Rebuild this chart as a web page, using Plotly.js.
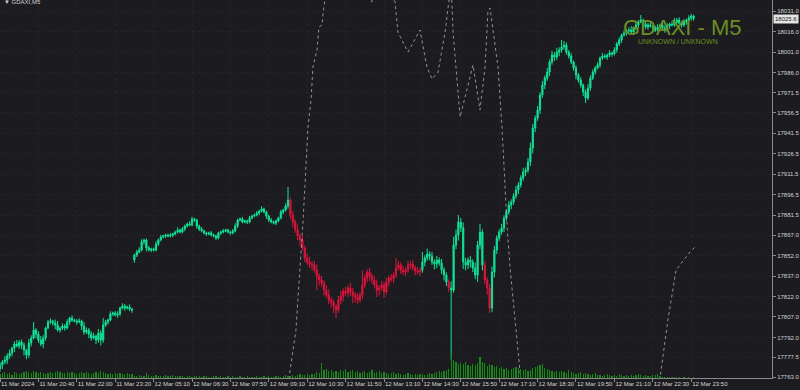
<!DOCTYPE html>
<html><head><meta charset="utf-8">
<script src="https://cdn.plot.ly/plotly-3.0.1.min.js"></script>
<style>html,body{margin:0;padding:0;background:#1c1c20;}#chart{width:800px;height:390px;}</style>
</head><body><div id="chart"></div>
<script>
// ---- data ----
const closes = [
17771.8,17774.0,17775.5,17778.4,17780.6,17784.2,17787.2,17785.7,17788.6,17786.4,
17782.8,17779.1,17787.9,17791.6,17797.4,17794.5,17790.1,17787.2,17791.6,17798.9,
17803.3,17804.0,17802.6,17801.1,17797.4,17798.9,17800.4,17798.9,17803.3,17806.2,
17804.8,17804.0,17803.3,17804.0,17800.4,17796.0,17797.4,17794.5,17791.6,17793.0,
17790.1,17795.2,17790.1,17801.1,17803.3,17804.8,17809.2,17809.9,17808.4,17809.2,
17813.5,17815.0,17813.5,17814.3,17812.8,17812.1,
17852.4,17854.6,17856.0,17861.9,17863.4,17857.5,17856.0,17856.8,17856.0,17860.4,
17863.4,17865.6,17866.3,17867.0,17866.3,17867.0,17867.8,17869.2,17870.7,17869.2,
17871.4,17873.6,17875.1,17874.4,17878.8,17878.0,17873.6,17871.4,17870.0,17868.5,
17867.8,17868.5,17867.0,17866.3,17864.8,17868.5,17869.2,17870.0,17870.7,17869.2,
17868.5,17870.0,17873.6,17878.0,17878.8,17876.6,17877.3,17876.6,17879.5,17880.9,
17881.7,17883.1,17884.6,17886.1,17883.9,17880.9,17878.0,17876.6,17875.8,17877.3,
17879.5,17883.9,17885.3,17888.3,17892.7,
17881.7,17876.6,17870.7,17866.3,17863.4,17857.5,17850.2,17847.2,17845.8,17845.1,
17841.4,17837.0,17834.1,17831.9,17826.7,17823.1,17819.4,17817.9,17815.0,17812.1,
17819.4,17822.3,17826.0,17824.5,17828.2,17825.3,17823.1,17821.6,17819.4,17823.1,
17830.4,17835.5,17839.9,17837.0,17834.1,17830.4,17826.7,17828.2,17830.4,17825.3,
17832.6,17835.5,17834.8,17837.7,17842.9,17845.1,17841.4,17839.9,17841.4,17845.1,
17845.8,17842.9,17840.7,17839.9,17841.4,17847.2,17850.2,17853.1,17851.6,17847.2,
17845.8,17848.7,17846.5,17841.4,17837.7,17832.6,17828.2,17826.7,17859.7,17867.0,
17876.6,17872.2,17847.2,17845.1,17848.7,17847.2,17842.9,17837.7,17859.7,17869.2,
17845.1,17834.1,17828.2,17813.5,17839.9,17856.0,17864.8,17869.2,17872.2,17879.5,
17883.9,17889.0,17891.2,17895.6,17900.0,17903.7,17908.8,17913.2,17914.6,17920.5,
17930.8,17945.4,17952.7,17958.6,17969.6,17976.9,17982.0,17986.4,17993.8,17998.9,
17997.4,18001.1,18002.6,18004.8,18006.2,18001.1,17998.2,17993.8,17989.4,17984.2,
17980.6,17976.9,17971.8,17967.4,17974.7,17982.0,17986.4,17989.4,17991.6,17996.7,
17998.2,17997.4,17998.9,18000.4,17999.6,18002.6,18007.0,18009.9,18013.5,18015.0,
18016.5,18017.2,18015.7,18018.7,18020.9,18023.1,18024.5,18021.6,18019.4,18020.9,
18020.1,18018.7,18017.2,18019.4,18020.9,18018.7,18017.2,18020.1,18021.6,18020.9,
18023.1,18024.5,18022.3,18020.9,18023.1,18024.5,18026.0,18027.5,18025.6
];
const firstOpen = 17769.0;
const gapBars = [56];
const gapOpens = [17848.7];
// wick lengths (points) above / below each candle body
const upWick = [
2,1.5,3,2,2.5,1,2,3,1.5,2, 2,1,3,2,4,1.5,2,3,2,1, 1.5,2,1,2.5,3,1,2,1.5,2,1, 2,1,1.5,2,1,3,2,1.5,2,2.5, 1,3,2,4,1.5,1,2,1,1.5,2, 1,2,1.5,1,2,1,
1,1.5,2,2,1,1,1.5,1,1,2, 1,1.5,1,1,1,1.5,1,1,2,1, 1.5,1,1,2,1.5,1,1,1,1.5,1, 1,1,1.5,1,1,1,1,1.5,1,1, 1,1.5,2,1,1,1.5,1,1,1.5,1, 1,1.5,1,2,1,1,1,1.5,1,1, 1,1.5,1,2,3,
2,3,2,4,2,3,2,3,4,2, 3,4,2,3,2,3,4,2,2,1, 3,4,2,3,2,4,3,2,3,2, 4,3,2,3,2,3,4,2,3,2, 3,2,3,2,4,3,2,3,2,3, 2,3,2,3,2,
3,2,4,2,3,2,3,2,3,2, 2,2,5,6,4,3,3,4,3,2, 3,2,4,3,6,2,3,2,3,4, 3,2,
2,3,2,2,3,2,2,3,2,2, 3,2,3,4,3,2,3,2,3,2, 3,2,3,2,3,2,2,3,
2,1.5,2,1,2,1.5,2,1,2,3, 2,2,1.5,2,1,2,1.5,1,2,1, 2,1.5,2,1,2,1.5,2,3,1,2, 1.5,2,1,2,1.5,2,1,1.5,2,1, 2,1.5,2,1,2,3,1.5,2,1,2, 1,2,1.5,1
];
const dnWick = [
2,3,1.5,3,2,2.5,3,1,2,3, 4,3,2,2.5,1,3,2,1.5,3,2, 1,1.5,2,3,1,2,1.5,2,1,2, 1.5,1,2,1,3,2,1.5,3,2,1, 3,2,4,2,1.5,2,1,1.5,1,2, 1.5,1,2,1,1.5,2,
2,1.5,1,1,2,2.5,1,1.5,1,1, 1.5,1,1,1.5,1,1,1.5,1,1,1, 1,1.5,1,1,1,1.5,2,1.5,1,1, 1.5,1,1,1,1.5,1,1.5,1,1,1, 1.5,1,1,1.5,1,1,1,1.5,1,1, 1,1,1.5,1,1,2,1.5,1,1,1.5, 1,1,1.5,1,2,
3,4,2,3,4,2,3,2,3,4, 2,3,4,3,4,2,3,4,2,3, 2,3,4,2,3,3,2,4,3,2, 3,2,3,4,3,2,3,4,2,3, 2,3,2,3,2,2,3,2,3,2, 3,2,3,2,3,
2,3,2,3,2,4,3,2,3,4, 3,3,3,2,3,4,3,5,4,3, 4,3,3,5,3,4,3,5,3,3, 4,3,
2,2,3,2,2,3,2,2,3,2, 2,3,2,3,4,3,2,3,2,3, 2,3,2,3,2,3,2,2,
2,2,1.5,2,3,2,2,3,2,1.5, 2,1.5,2,1,2,1.5,1,2,1.5,2, 1,2,1.5,2,1,2,1.5,1,2,1.5, 2,1,2,1.5,2,1,2,1.5,1,2, 1,2,1.5,2,1,1.5,2,1,2,1.5, 2,1,2,1.5
];
const highBars = [14, 43, 120, 136, 151, 165, 176, 191, 234, 267, 288];
const highVals = [17803.3, 17806.2, 17902.2, 17830.4, 17841.4, 17850.2, 17854.6, 17881.7, 18009.9, 18028.2, 18028.9];
const lowBars = [11, 43, 132, 139, 140, 147, 157, 160, 188, 204, 244];
const lowVals = [17776.9, 17788.6, 17826.7, 17809.9, 17806.2, 17817.2, 17821.6, 17820.9, 17775.5, 17809.9, 17963.7];
const redStarts = [121, 187, 202];
const redEnds = [175, 187, 204];

const volumes = [
200,250,300,200,250,150,300,250,200,250,
300,350,300,250,350,300,250,300,250,200,
250,300,250,300,350,300,250,250,300,250,
300,250,200,250,300,250,300,250,200,250,
300,250,350,300,250,200,250,200,250,200,
250,200,200,250,200,200,
100,100,150,100,100,250,150,100,100,150,
100,100,100,150,100,100,150,100,100,100,
100,50,100,100,50,100,100,100,50,100,
100,50,50,100,100,50,100,50,50,100,
50,100,50,50,100,50,50,100,50,50,
50,100,50,50,100,50,100,50,50,100,
100,50,100,150,100,
100,150,100,150,200,150,150,200,150,200,
200,300,250,750,400,450,350,400,300,350,
300,400,350,450,300,350,400,300,350,250,
300,350,250,300,400,250,300,350,250,300,
250,200,250,300,200,250,200,150,200,250,
200,150,200,150,200,200,150,200,250,200,
250,300,350,300,350,400,450,1200,900,800,
700,750,700,800,650,600,700,650,750,1050,
800,750,600,700,650,550,600,500,550,450,
500,400,450,500,550,500,450,400,450,350,
400,500,550,600,650,700,500,450,400,350,
300,350,300,350,300,250,400,300,250,200,
250,300,200,250,200,150,200,250,150,150,
100,150,200,150,100,150,100,200,150,100,
150,100,150,100,150,200,150,100,150,100,
100,150,150,200,100,50,50,50,50,50,
50,50,50,25,50,25,50,25,50
];

const indBars = [118,120.4,123.3,126.3,128.3,129.6,130.4,132.1,132.9,134.2,134.6,135.4,141.7,152,155,158,164.6,165.8,170,175,177.9,180,182.5,185.4,187.5,188.3,188.8,191.7,197.1,200,202.1,203.3,204.2,207.5,209.2,211.3,212.5,213.8,215.4,216.7,217.5,273.8,275,278.3,281.7,284.2,287.5,289.6];
const indVals = [17740,17762.3,17797.4,17878,17945.4,17966,17990.1,18002.6,18019.4,18020.9,18029.7,18039.2,18083,18068,18037.7,18060,18037.7,18015.7,18001.1,18017.2,17990.1,17981.3,17986.4,18015,18045,18037.7,18015,17953.5,17991.6,17958.6,17990.1,18030.4,18033.3,17990.1,17945.4,17872.9,17843.6,17819.4,17795.2,17765.9,17752,17752,17762.3,17804.8,17841.4,17847.2,17854.6,17858.2];

const xTickBars = [0,16,32,48,64,80,96,112,128,144,160,176,192,208,224,240,256,272,288];
const xTickLabels = ["11 Mar 2024","11 Mar 20:40","11 Mar 22:00","11 Mar 23:20","12 Mar 05:10","12 Mar 06:30","12 Mar 07:50","12 Mar 09:10","12 Mar 10:30","12 Mar 11:50","12 Mar 13:10","12 Mar 14:30","12 Mar 15:50","12 Mar 17:10","12 Mar 18:30","12 Mar 19:50","12 Mar 21:10","12 Mar 22:30","12 Mar 23:50"];
const yTickVals = [18031.0,18016.0,18001.0,17986.0,17971.5,17956.5,17941.5,17926.5,17911.5,17896.5,17881.5,17867.0,17852.0,17837.0,17822.0,17807.0,17792.0,17777.5,17763.0];

// ---- build ----
const idx = closes.map((_, i) => i);
const opens = closes.map((c, i) => i === 0 ? firstOpen : closes[i - 1]);
gapBars.forEach((b, k) => { opens[b] = gapOpens[k]; });
const highs = closes.map((c, i) => Math.max(c, opens[i]) + (upWick[i] || 0));
const lows = closes.map((c, i) => Math.min(c, opens[i]) - (dnWick[i] || 0));
highBars.forEach((b, k) => { highs[b] = Math.max(highs[b], highVals[k]); });
lowBars.forEach((b, k) => { lows[b] = Math.min(lows[b], lowVals[k]); });
const isRed = idx.map(i => redStarts.some((s, k) => i >= s && i <= redEnds[k]));
const pick = (arr, red) => arr.map((v, i) => isRed[i] === red ? v : null);

const GREEN = '#10e496', RED = '#dc143c';
function candles(red, color) {
  return {
    type: 'candlestick', x: idx,
    open: pick(opens, red), high: pick(highs, red), low: pick(lows, red), close: pick(closes, red),
    increasing: {line: {color: color, width: 1}, fillcolor: color},
    decreasing: {line: {color: color, width: 1}, fillcolor: color},
    whiskerwidth: 0, hoverinfo: 'skip', showlegend: false
  };
}

const traces = [
  {type: 'bar', x: idx, y: volumes, yaxis: 'y2', width: 0.5,
   marker: {color: '#158a15', line: {width: 0}}, hoverinfo: 'skip', showlegend: false},
  candles(false, GREEN),
  candles(true, RED),
  {type: 'scatter', mode: 'lines', x: indBars, y: indVals,
   line: {color: 'rgba(185,185,185,0.75)', width: 1, dash: 'dot'}, hoverinfo: 'skip', showlegend: false}
];

const axisFont = {family: 'Liberation Sans, Arial, sans-serif', size: 6, color: '#d2d2d2'};
const layout = {
  width: 800, height: 390,
  margin: {l: 0, r: 28, t: 0, b: 12, pad: 0},
  paper_bgcolor: '#1c1c20', plot_bgcolor: '#1c1c20',
  showlegend: false, bargap: 0,
  xaxis: {
    range: [0, 321.67], tickmode: 'array', tickvals: xTickBars, ticktext: xTickLabels,
    ticks: 'outside', ticklen: 3, tickcolor: '#8a8a8a', ticklabelposition: 'outside right',
    tickangle: 0, automargin: false, ticklabelstandoff: 0,
    tickfont: axisFont, showline: true, linecolor: '#8a8a8a', linewidth: 1,
    showgrid: true, gridcolor: 'rgba(255,255,255,0.035)', griddash: 'dot', gridwidth: 1,
    zeroline: false, rangeslider: {visible: false}, fixedrange: true
  },
  yaxis: {
    side: 'right', range: [17762.3, 18039.2], tickmode: 'array', tickvals: yTickVals, tickformat: '.1f',
    ticks: 'outside', ticklen: 3, tickcolor: '#8a8a8a', tickfont: axisFont, automargin: false,
    showline: true, linecolor: '#8a8a8a', linewidth: 1,
    showgrid: true, gridcolor: 'rgba(255,255,255,0.035)', griddash: 'dot', gridwidth: 1,
    zeroline: false, fixedrange: true
  },
  yaxis2: {overlaying: 'y', range: [0, 18900], visible: false, fixedrange: true},
  annotations: [
    {text: 'GDAXI - M5', xref: 'paper', yref: 'paper', x: 0.8045, y: 0.9265, xanchor: 'left', yanchor: 'middle',
     showarrow: false, font: {family: 'Liberation Sans, Arial, sans-serif', size: 22, color: '#6b8e23'}},
    {text: 'UNKNOWN / UNKNOWN', xref: 'paper', yref: 'paper', x: 0.8238, y: 0.8905, xanchor: 'left', yanchor: 'middle',
     showarrow: false, font: {family: 'Liberation Sans, Arial, sans-serif', size: 7, color: '#6b8e23'}},
    {text: '▼ GDAXI,M5', xref: 'paper', yref: 'paper', x: 0.002, y: 0.9947, xanchor: 'left', yanchor: 'middle',
     showarrow: false, font: {family: 'Liberation Sans, Arial, sans-serif', size: 6, color: '#cfcfcf'}},
    {text: closes[closes.length - 1].toFixed(1), xref: 'paper', yref: 'y', x: 1, y: closes[closes.length - 1],
     xanchor: 'left', yanchor: 'middle', xshift: 1, showarrow: false, bgcolor: '#e4e4e4', borderpad: 1,
     font: {family: 'Liberation Sans, Arial, sans-serif', size: 6, color: '#1a1a1a'}}
  ]
};

Plotly.newPlot('chart', traces, layout, {staticPlot: true, displayModeBar: false});
</script>
</body></html>
